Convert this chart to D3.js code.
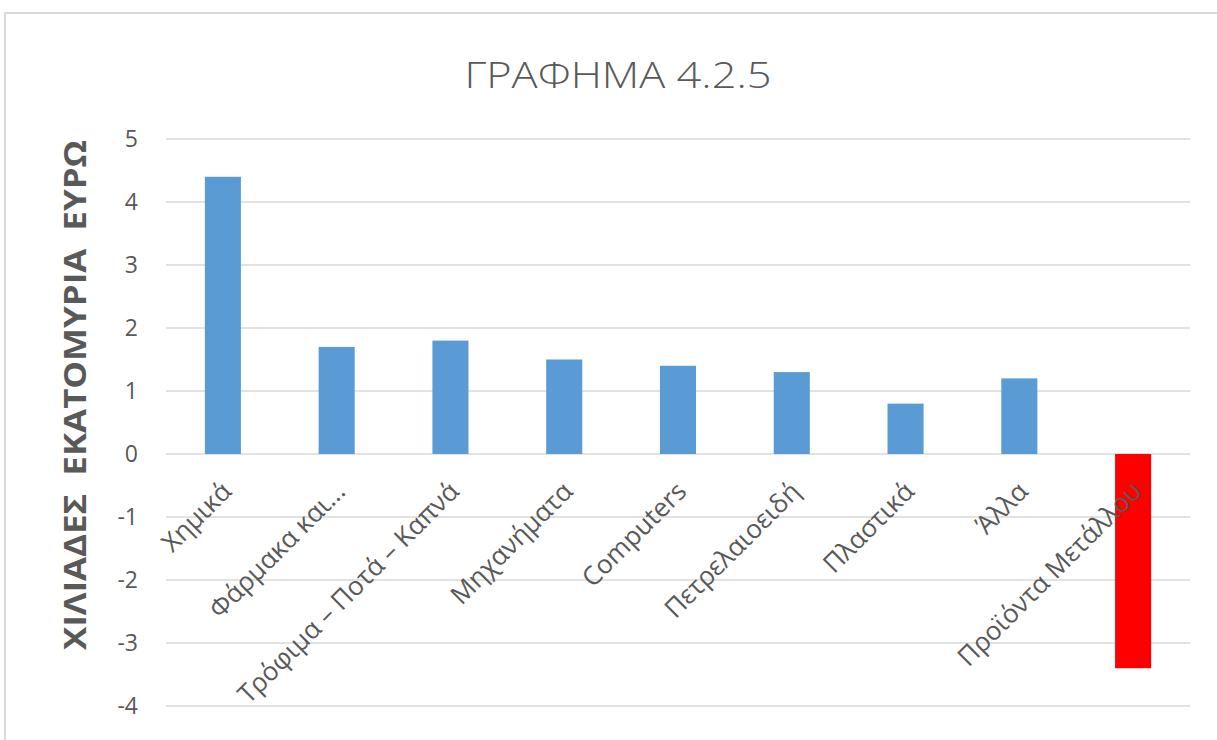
<!DOCTYPE html>
<html>
<head>
<meta charset="utf-8">
<script src="https://cdn.jsdelivr.net/npm/d3@7"></script>
<style>
  body { margin: 0; background: #fff; }
  svg { display: block; }
</style>
</head>
<body>
<div id="chart"></div>
<script>
// Data
const categories = ['Χημικά', 'Φάρμακα και...', 'Τρόφιμα – Ποτά – Καπνά', 'Μηχανήματα', 'Computers',
    'Πετρελαιοειδή', 'Πλαστικά', 'Άλλα', 'Προϊόντα Μετάλλου'];
const values = [4.4, 1.7, 1.8, 1.5, 1.4, 1.3, 0.8, 1.2, -3.4];
const yTicks = [-4, -3, -2, -1, 0, 1, 2, 3, 4, 5];

const width = 1217;
const height = 740;
const margin = { top: 139, right: 27, bottom: 34, left: 166 };

const svg = d3.select('#chart')
    .append('svg')
    .attr('width', width)
    .attr('height', height);

// chart frame
svg.append('rect')
    .attr('x', 5)
    .attr('y', 13)
    .attr('width', width + 20)
    .attr('height', height + 20)
    .attr('fill', 'none')
    .attr('stroke', '#d9d9d9')
    .attr('stroke-width', 2);

// title
svg.append('text')
    .attr('x', 618)
    .attr('y', 88)
    .attr('text-anchor', 'middle')
    .attr('font-family', 'Open Sans')
    .attr('font-size', 37)
    .attr('font-weight', 300)
    .attr('fill', '#595959')
    .attr('textLength', 307)
    .attr('lengthAdjust', 'spacingAndGlyphs')
    .text('ΓΡΑΦΗΜΑ 4.2.5');

const x = d3.scaleBand()
    .domain(categories)
    .range([margin.left, width - margin.right])
    .paddingInner(0.683)
    .paddingOuter(0.3415);

const y = d3.scaleLinear()
    .domain([-4, 5])
    .range([height - margin.bottom, margin.top]);

// gridlines
svg.append('g')
    .selectAll('line')
    .data(yTicks)
    .enter()
    .append('line')
    .attr('x1', margin.left)
    .attr('x2', width - margin.right)
    .attr('y1', d => y(d))
    .attr('y2', d => y(d))
    .attr('stroke', '#d9d9d9')
    .attr('stroke-width', 1.5);

// y axis labels (plain hyphen for negatives, as in the original)
const yAxis = svg.append('g')
    .attr('transform', `translate(${margin.left - 28},0)`)
    .call(d3.axisLeft(y).tickValues(yTicks).tickSize(0).tickPadding(0)
        .tickFormat(d => String(d)));
yAxis.select('.domain').remove();
yAxis.selectAll('text')
    .attr('font-family', 'Open Sans')
    .attr('font-size', 23)
    .attr('fill', '#595959');

// y axis title
svg.append('text')
    .attr('transform', 'translate(86, 395) rotate(-90)')
    .attr('text-anchor', 'middle')
    .attr('font-family', 'Open Sans')
    .attr('font-size', 30)
    .attr('font-weight', 700)
    .attr('fill', '#595959')
    .attr('textLength', 510)
    .attr('lengthAdjust', 'spacingAndGlyphs')
    .attr('xml:space', 'preserve')
    .text('ΧΙΛΙΑΔΕΣ  ΕΚΑΤΟΜΥΡΙΑ  ΕΥΡΩ');

// bars
svg.append('g')
    .selectAll('rect')
    .data(values)
    .enter()
    .append('rect')
    .attr('x', (d, i) => x(categories[i]))
    .attr('width', x.bandwidth())
    .attr('y', d => y(Math.max(0, d)))
    .attr('height', d => Math.abs(y(d) - y(0)))
    .attr('fill', d => d < 0 ? '#ff0000' : '#5b9bd5');

// category labels
svg.append('g')
    .selectAll('text')
    .data(categories)
    .enter()
    .append('text')
    .attr('transform', d => `translate(${x(d) + x.bandwidth() / 2 + 3}, ${y(0) + 32}) rotate(-45)`)
    .attr('text-anchor', 'end')
    .attr('dominant-baseline', 'central')
    .attr('font-family', 'Open Sans')
    .attr('font-size', 26)
    .attr('fill', '#595959')
    .text(d => d);
</script>
</body>
</html>
